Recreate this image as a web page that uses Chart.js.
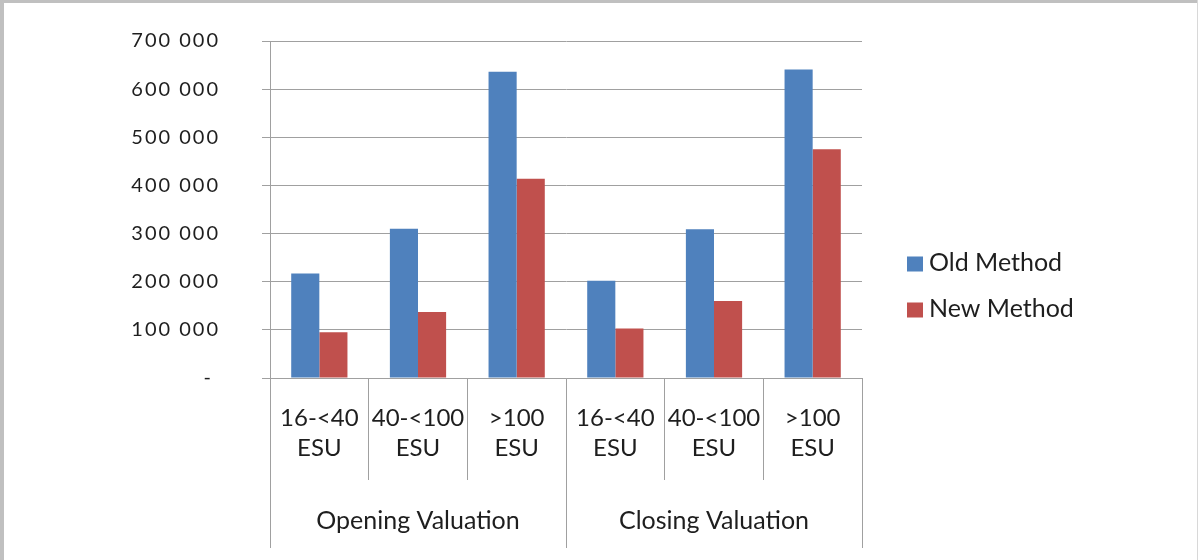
<!DOCTYPE html>
<html>
<head>
<meta charset="utf-8">
<script src="https://cdn.jsdelivr.net/npm/chart.js@4.4.1/dist/chart.umd.min.js"></script>
<style>
  html, body { margin: 0; padding: 0; background: #ffffff; overflow: hidden; }
  #wrap { position: relative; width: 1198px; height: 560px; }
  canvas { position: absolute; left: 0; top: 0; }
  .bt { position: absolute; left: 0; top: 0; width: 1198px; height: 3px; background: #c0c0c0; }
  .bl { position: absolute; left: 0; top: 0; width: 4px; height: 560px; background: #c0c0c0; }
  .br { position: absolute; right: 0; top: 0; width: 1px; height: 560px; background: #d8d8d8; }
</style>
</head>
<body>
<div id="wrap">
  <canvas id="c" width="1198" height="560"></canvas>
  <div class="bt"></div><div class="bl"></div><div class="br"></div>
</div>
<script>
// ---- data ----
const categories = [
  ['16-<40', 'ESU'], ['40-<100', 'ESU'], ['>100', 'ESU'],
  ['16-<40', 'ESU'], ['40-<100', 'ESU'], ['>100', 'ESU']
];
const groups = ['Opening Valuation', 'Closing Valuation'];
const seriesNames = ['Old Method', 'New Method'];
const oldMethod = [217000, 310000, 636000, 202000, 309000, 641000];
const newMethod = [95000, 137000, 414000, 103000, 160000, 475000];
const yTicks = [0, 100000, 200000, 300000, 400000, 500000, 600000, 700000];

const BLUE = '#4f81bd', RED = '#c0504d', GRID = '#a0a0a0', TXT = '#1e1e1e';
const FONT = 'Lato';

function fmt(v) {
  if (v === 0) return '- ';
  return String(v).replace(/\B(?=(\d{3})+(?!\d))/g, ' ');
}

const legendPlugin = {
  id: 'customLegend',
  afterDraw(chart) {
    const ctx = chart.ctx, ca = chart.chartArea;
    const colors = [BLUE, RED];
    const rows = [ca.top + 223, ca.top + 269];
    ctx.save();
    ctx.font = '25px ' + FONT;
    ctx.textBaseline = 'middle';
    seriesNames.forEach((name, i) => {
      const x = ca.right + 45;
      ctx.fillStyle = colors[i];
      ctx.fillRect(x, rows[i] - 7.5, 16, 15);
      ctx.fillStyle = TXT;
      ctx.fillText(name, x + 22, rows[i] - 1);
    });
    ctx.restore();
  }
};

const spacingPlugin = {
  id: 'ySpacing',
  beforeDraw(chart) {
    const s = chart.scales.y;
    if (s && !s._lsWrapped) {
      const orig = s.drawLabels;
      s.drawLabels = function (area) {
        const c = this.ctx;
        const prev = c.letterSpacing;
        c.letterSpacing = '2px';
        orig.call(this, area);
        c.letterSpacing = prev || '0px';
      };
      s._lsWrapped = true;
    }
  }
};

function build() {
  new Chart(document.getElementById('c'), {
    type: 'bar',
    data: {
      labels: categories,
      datasets: [
        { label: seriesNames[0], data: oldMethod, backgroundColor: BLUE, borderWidth: 0,
          barPercentage: 1.0, categoryPercentage: 0.57, xAxisID: 'x' },
        { label: seriesNames[1], data: newMethod, backgroundColor: RED, borderWidth: 0,
          barPercentage: 1.0, categoryPercentage: 0.57, xAxisID: 'x' }
      ]
    },
    options: {
      responsive: false,
      animation: false,
      layout: { padding: { top: 41, right: 336, bottom: 12, left: 0 } },
      plugins: { legend: { display: false }, tooltip: { enabled: false }, title: { display: false } },
      scales: {
        y: {
          min: 0, max: 700000,
          afterBuildTicks(scale) { scale.ticks = yTicks.map(v => ({ value: v })); },
          afterFit(scale) { scale.width = 270; scale.paddingTop = 0; scale.paddingBottom = 0; },
          ticks: {
            callback: v => fmt(v),
            font: { family: FONT, size: 20 },
            color: TXT,
            padding: 42
          },
          grid: { color: GRID, lineWidth: 1, tickLength: 8, drawTicks: true },
          border: { display: true, color: GRID, width: 1 }
        },
        x: {
          type: 'category',
          position: 'bottom',
          offset: true,
          afterFit(scale) { scale.height = 100; },
          grid: { display: true, drawOnChartArea: false, drawTicks: true, tickLength: 102,
                  offset: true, color: GRID, lineWidth: 1 },
          border: { display: true, color: GRID, width: 1 },
          ticks: {
            font: { family: FONT, size: 24, lineHeight: 1.25 },
            color: TXT,
            padding: -77,
            maxRotation: 0, minRotation: 0, autoSkip: false
          }
        },
        x2: {
          type: 'category',
          position: 'bottom',
          labels: groups,
          offset: true,
          afterFit(scale) { scale.height = 70; },
          grid: { display: true, drawOnChartArea: false, drawTicks: true, tickLength: 70,
                  offset: true, color: GRID, lineWidth: 1 },
          border: { display: false },
          ticks: {
            font: { family: FONT, size: 25, lineHeight: 1.25 },
            color: TXT,
            padding: -43,
            maxRotation: 0, minRotation: 0, autoSkip: false
          }
        }
      }
    },
    plugins: [legendPlugin, spacingPlugin]
  });
}

if (document.fonts && document.fonts.load) {
  Promise.all([document.fonts.load('24px Lato'), document.fonts.load('20px Lato')])
    .then(build, build);
} else { build(); }
</script>
</body>
</html>
